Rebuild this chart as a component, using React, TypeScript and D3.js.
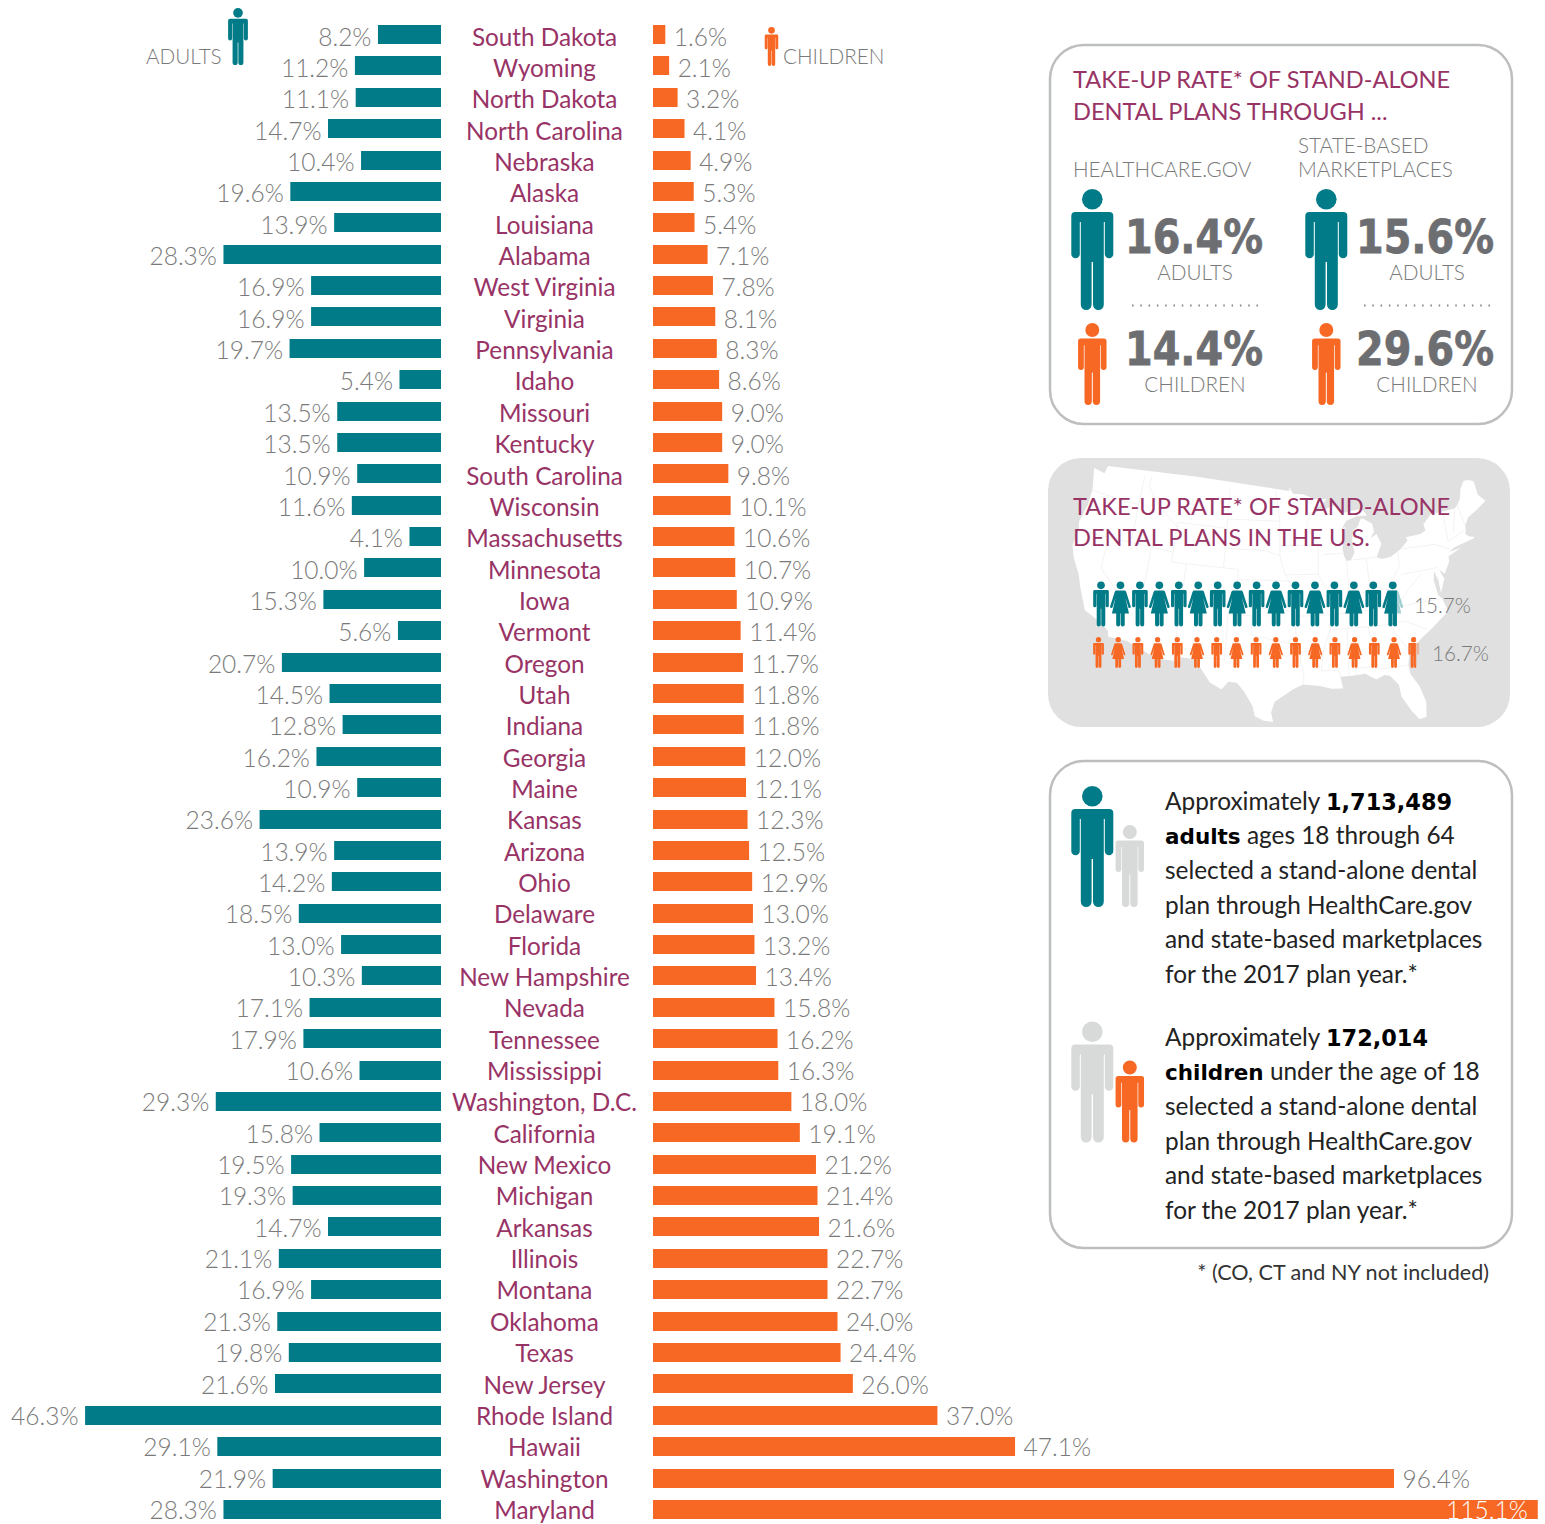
import React from 'react';
import * as d3 from 'd3';

// states run from lowest to highest child take-up rate
const states = ['South Dakota', 'Wyoming', 'North Dakota', 'North Carolina', 'Nebraska', 'Alaska', 'Louisiana', 'Alabama', 'West Virginia', 'Virginia', 'Pennsylvania', 'Idaho', 'Missouri', 'Kentucky', 'South Carolina', 'Wisconsin', 'Massachusetts', 'Minnesota', 'Iowa', 'Vermont', 'Oregon', 'Utah', 'Indiana', 'Georgia', 'Maine', 'Kansas', 'Arizona', 'Ohio', 'Delaware', 'Florida', 'New Hampshire', 'Nevada', 'Tennessee', 'Mississippi', 'Washington, D.C.', 'California', 'New Mexico', 'Michigan', 'Arkansas', 'Illinois', 'Montana', 'Oklahoma', 'Texas', 'New Jersey', 'Rhode Island', 'Hawaii', 'Washington', 'Maryland'];
const adultRates = [8.2, 11.2, 11.1, 14.7, 10.4, 19.6, 13.9, 28.3, 16.9, 16.9, 19.7, 5.4, 13.5, 13.5, 10.9, 11.6, 4.1, 10.0, 15.3, 5.6, 20.7, 14.5, 12.8, 16.2, 10.9, 23.6, 13.9, 14.2, 18.5, 13.0, 10.3, 17.1, 17.9, 10.6, 29.3, 15.8, 19.5, 19.3, 14.7, 21.1, 16.9, 21.3, 19.8, 21.6, 46.3, 29.1, 21.9, 28.3];
const childRates = [1.6, 2.1, 3.2, 4.1, 4.9, 5.3, 5.4, 7.1, 7.8, 8.1, 8.3, 8.6, 9.0, 9.0, 9.8, 10.1, 10.6, 10.7, 10.9, 11.4, 11.7, 11.8, 11.8, 12.0, 12.1, 12.3, 12.5, 12.9, 13.0, 13.2, 13.4, 15.8, 16.2, 16.3, 18.0, 19.1, 21.2, 21.4, 21.6, 22.7, 22.7, 24.0, 24.4, 26.0, 37.0, 47.1, 96.4, 115.1];

const usAdultRate = 15.7;
const usChildRate = 16.7;

const adultNote = [['Approximately ', '1,713,489'], ['adults', ' ages 18 through 64'], ['selected a stand-alone dental'], ['plan through HealthCare.gov'], ['and state-based marketplaces'], ['for the 2017 plan year.*']];
const childNote = [['Approximately ', '172,014'], ['children', ' under the age of 18'], ['selected a stand-alone dental'], ['plan through HealthCare.gov'], ['and state-based marketplaces'], ['for the 2017 plan year.*']];

// rough lower-48 outline, lon/lat, clockwise from the north-west corner
const usOutline = [[-124.7, 48.4], [-123, 48.2], [-122.8, 49], [-95.15, 49], [-95.15, 49.4], [-94.6, 48.7], [-93, 48.6], [-91.5, 48.1], [-89.6, 48], [-92, 46.7], [-90.5, 46.9], [-88.4, 47.4], [-87.5, 46.5], [-85, 46.7], [-84.4, 46.5], [-84, 46], [-85.5, 46.05], [-87, 45.7], [-87.6, 45.1], [-88, 44.55], [-87.3, 45.2], [-87.6, 44], [-87.9, 43], [-87.8, 42.3], [-87.5, 41.7], [-86.9, 41.75], [-86.3, 42.5], [-86.5, 43.6], [-86.2, 44.7], [-85.5, 45], [-85, 45.7], [-84.7, 45.78], [-83.4, 45.1], [-83.3, 44.3], [-83.9, 43.7], [-83, 44.05], [-82.5, 43], [-83.1, 42.2], [-83.4, 41.75], [-82.7, 41.5], [-81.5, 41.6], [-80, 42.2], [-78.9, 42.9], [-79.05, 43.27], [-77, 43.3], [-76.2, 43.55], [-76.3, 44.2], [-75, 45], [-71.5, 45], [-71, 45.3], [-70.4, 45.8], [-70, 46.7], [-69.2, 47.45], [-68.3, 47.35], [-67.8, 47.07], [-67.8, 45.7], [-67, 44.9], [-68.5, 44.3], [-70, 43.8], [-70.7, 43.1], [-70.8, 42.6], [-71, 42.3], [-70.6, 41.95], [-70, 41.8], [-70, 41.65], [-71.2, 41.5], [-72.9, 41.25], [-73.7, 40.95], [-72, 41.1], [-73.9, 40.55], [-74, 40], [-74.9, 38.95], [-75.5, 39.5], [-75.1, 38.5], [-75.9, 37.15], [-75.9, 38.5], [-76.2, 39.4], [-76.5, 38.5], [-76.3, 37], [-75.9, 36.6], [-75.5, 35.25], [-76.6, 34.65], [-77.9, 33.9], [-79.2, 33.2], [-81, 32], [-81.4, 30.7], [-81.3, 29.8], [-80.5, 28.4], [-80.05, 26.8], [-80.3, 25.3], [-81.1, 25.15], [-81.8, 26.1], [-82.7, 27.7], [-82.8, 28.9], [-83.7, 29.9], [-84.3, 30.05], [-85.3, 29.7], [-86.5, 30.4], [-88, 30.3], [-89.4, 30.3], [-89.2, 29.1], [-90.5, 29.15], [-91.8, 29.5], [-93.8, 29.7], [-95, 29.2], [-97, 28], [-97.4, 26.9], [-97.15, 25.95], [-98.2, 26.05], [-99.2, 26.5], [-99.5, 27.5], [-100.5, 28.9], [-101.4, 29.77], [-102.4, 29.8], [-103.1, 29], [-104.5, 29.6], [-106.5, 31.75], [-108.2, 31.78], [-108.2, 31.33], [-111.07, 31.33], [-114.8, 32.5], [-117.1, 32.53], [-117.3, 33.1], [-118.4, 33.75], [-120.6, 34.55], [-121.9, 36.6], [-122.5, 37.75], [-123.8, 39.3], [-124.4, 40.4], [-124.2, 42], [-124.5, 42.85], [-124, 44.7], [-124, 46.3], [-124.7, 48.4]];

// the faint state lines on the map
const stateLines = [
  [[-124, 46.25], [-123, 46.2], [-119, 46], [-117.03, 46]],
  [[-117.03, 49], [-117.03, 46], [-116.9, 44], [-117.03, 42]],
  [[-124.2, 42], [-111.05, 42]],
  [[-120, 42], [-120, 39], [-114.6, 35]],
  [[-114.04, 42], [-114.04, 36.2]],
  [[-114.04, 37], [-94.6, 37]],
  [[-109.05, 41], [-109.05, 31.33]],
  [[-116.05, 49], [-116.05, 48], [-114.5, 46.6], [-111.05, 44.5]],
  [[-111.05, 45], [-104.05, 45]],
  [[-111.05, 45], [-111.05, 41], [-102.05, 41], [-102.05, 37]],
  [[-104.05, 49], [-104.05, 41]],
  [[-103, 37], [-103, 32], [-106.6, 32]],
  [[-104.05, 45.94], [-96.56, 45.94]],
  [[-104.05, 43], [-98.5, 43], [-96.5, 42.5]],
  [[-102.05, 40], [-95.3, 40]],
  [[-103, 36.5], [-100, 36.5], [-100, 34.6], [-94.4, 33.6]],
  [[-97.2, 49], [-96.56, 45.94], [-96.5, 42.5], [-95.8, 40.6], [-94.6, 39.1], [-94.6, 36.5], [-94.4, 33.6], [-94, 33], [-94, 31.9], [-93.6, 31], [-93.8, 29.7]],
  [[-96.5, 43.5], [-91.2, 43.5]],
  [[-95.8, 40.6], [-91.4, 40.6]],
  [[-92, 46.7], [-92.8, 45.5], [-91.2, 43.5], [-91.4, 40.6], [-89.2, 37], [-90.3, 35], [-91.2, 33], [-91.6, 31], [-89.6, 31], [-89.4, 30.3]],
  [[-94.6, 36.5], [-90.3, 36.5], [-81.7, 36.6], [-75.9, 36.6]],
  [[-94, 33], [-91.2, 33]],
  [[-90.3, 35], [-84.3, 35], [-83, 35], [-81, 35.1], [-78.5, 33.9]],
  [[-88.2, 35], [-88.4, 30.3]],
  [[-85.6, 35], [-85, 32], [-85, 31], [-87.6, 31], [-87.5, 30.3]],
  [[-85, 31], [-84.9, 30.7], [-81.5, 30.7]],
  [[-83, 35], [-81, 32]],
  [[-90.6, 42.5], [-87.8, 42.5]],
  [[-87.5, 41.7], [-87.5, 39.3], [-88, 37.9]],
  [[-84.8, 41.7], [-84.8, 39.1]],
  [[-86.9, 41.75], [-83.4, 41.75]],
  [[-89.2, 37], [-85, 38.7], [-84.8, 39.1], [-82.6, 38.4], [-80.5, 40.6], [-80.5, 42]],
  [[-80.5, 39.7], [-75.7, 39.7]],
  [[-79.8, 42.2], [-75.3, 42], [-73.5, 41.2]],
  [[-73.3, 45], [-73.5, 42], [-70.8, 42.7]],
  [[-71.5, 45], [-72.5, 42.7]],
  [[-71, 45.3], [-70.7, 43.1]],
  [[-81.7, 36.6], [-80, 38], [-78, 39.4]],
];

const TEAL = '#007b87';
const ORANGE = '#f66824';
const GREY_ICON = '#d8d9d9';
const MAROON = '#983366';
const LABEL = '#7a7a7a';
const FONT = 'Lato, sans-serif';
const HEAVY = '"DejaVu Sans", sans-serif';

// icon shapes: 121 units tall, centred on x = 0
const MAN = 'M-17,23 H17 Q21,23 21,27 V65 A4.25,4.25 0 0 1 12.5,65 V33 H11.5 V115.6 A5.4,5.4 0 0 1 0.7,115.6 V73 H-0.7 V115.6 A5.4,5.4 0 0 1 -11.5,115.6 V33 H-12.5 V65 A4.25,4.25 0 0 1 -21,65 V27 Q-21,23 -17,23 Z';
const WOMAN = 'M-11,24 H11 Q14,24 15.5,28 L28,68 A3.6,3.6 0 0 1 21.5,70 L13,44 L23,86 H11.5 V115.6 A5.4,5.4 0 0 1 0.7,115.6 V86 H-0.7 V115.6 A5.4,5.4 0 0 1 -11.5,115.6 V86 H-23 L-13,44 L-21.5,70 A3.6,3.6 0 0 1 -28,68 L-15.5,28 Q-14,24 -11,24 Z';

function Person({ x, y, h, fill, woman = false, opacity = 1 }: { x: number; y: number; h: number; fill: string; woman?: boolean; opacity?: number }) {
  const k = h / 121;
  return (
    <g transform={`translate(${x},${y}) scale(${k})`} fill={fill} opacity={opacity}>
      <circle cx={0} cy={10.3} r={10.3} />
      <path d={woman ? WOMAN : MAN} />
    </g>
  );
}

// one row of alternating people, the last one only partly filled
function PeopleRow({ id, rate, x, step, y, h, fill }: { id: string; rate: number; x: number; step: number; y: number; h: number; fill: string }) {
  const count = Math.ceil(rate);
  const frac = rate - Math.floor(rate);
  const pos = d3.scaleLinear().domain([0, 1]).range([x, x + step]);
  const lastX = pos(count - 1);
  const lastWoman = (count - 1) % 2 === 1;
  const w = ((lastWoman ? 28 : 21) * h) / 121;
  return (
    <g>
      <clipPath id={id}>
        <rect x={lastX - w} y={y} width={2 * w * frac} height={h} />
      </clipPath>
      {d3.range(count - 1).map((i) => (
        <Person key={i} x={pos(i)} y={y} h={h} fill={fill} woman={i % 2 === 1} />
      ))}
      <Person x={lastX} y={y} h={h} fill={fill} woman={lastWoman} opacity={0.35} />
      <g clipPath={`url(#${id})`}>
        <Person x={lastX} y={y} h={h} fill={fill} woman={lastWoman} />
      </g>
    </g>
  );
}

function Note({ lines, y }: { lines: string[][]; y: number }) {
  return (
    <text fontFamily={FONT} fontSize={24.4} fill="#222">
      {lines.map((parts, i) => (
        <tspan key={i} x={1165} y={y + i * 34.7}>
          {parts.map((p, j) => {
            if (/^[\d,]+$/.test(p)) return <tspan key={j} fontFamily={HEAVY} fontWeight={700} fontSize={22.4} fill="#000">{p}</tspan>;
            if (p === 'adults' || p === 'children') return <tspan key={j} fontFamily={HEAVY} fontWeight={700} fontSize={21.5} fill="#000">{p}</tspan>;
            return <tspan key={j}>{p}</tspan>;
          })}
        </tspan>
      ))}
    </text>
  );
}

function App() {
  const len = d3.scaleLinear().domain([0, 100]).range([0, 768.7]);
  const rowY = d3.scaleBand().domain(states).range([18.72, 1525.3]).paddingInner(0.39).paddingOuter(0.2);
  const baseline = d3.scaleLinear().domain([0, states.length - 1]).range([45.7, 1518.9]);
  const barH = 19;

  const projection = d3.geoAlbers().fitExtent([[1072, 466], [1486, 722]], { type: 'Polygon', coordinates: [usOutline] } as any);
  const geoPath = d3.geoPath(projection);
  const mapShape = geoPath({ type: 'Polygon', coordinates: [usOutline] } as any) || '';
  const borders = geoPath({ type: 'MultiLineString', coordinates: stateLines } as any) || '';

  const label = { fontFamily: FONT, fontWeight: 300, fontSize: 24.5, fill: LABEL };
  const small = { fontFamily: FONT, fontWeight: 300, fontSize: 20.7, fill: LABEL };
  const title = { fontFamily: FONT, fontSize: 23.6, fill: MAROON };
  const stat = { fontFamily: HEAVY, fontWeight: 700, fontSize: 46, fill: '#6d6e71', stroke: '#6d6e71', strokeWidth: 0.8, textAnchor: 'middle' as const, textLength: 138, lengthAdjust: 'spacingAndGlyphs' as const };

  return (
    <svg width={1545} height={1524} style={{ position: 'absolute', left: 0, top: 0 }}>
      <rect width={1545} height={1524} fill="#fff" />

      {/* butterfly bars */}
      {states.map((s, i) => {
        const y = Math.round(rowY(s) as number);
        const base = baseline(i);
        const adult = adultRates[i];
        const child = childRates[i];
        const inside = child > 100;
        return (
          <g key={s}>
            <rect x={441 - len(adult)} y={y} width={len(adult)} height={barH} fill={TEAL} />
            <rect x={653} y={y} width={len(child)} height={barH} fill={ORANGE} />
            <text {...label} x={441 - len(adult) - 6.5} y={base} textAnchor="end">{adult.toFixed(1)}%</text>
            <text fontFamily={FONT} fontSize={24.3} fill={MAROON} x={544.5} y={base} textAnchor="middle">{s}</text>
            {inside ? (
              <text {...label} fill="#fff" x={653 + len(child) - 10} y={base} textAnchor="end">{child.toFixed(1)}%</text>
            ) : (
              <text {...label} x={653 + len(child) + 8.5} y={base}>{child.toFixed(1)}%</text>
            )}
          </g>
        );
      })}

      {/* column headers */}
      <text {...small} x={146} y={64}>ADULTS</text>
      <Person x={238} y={8} h={57} fill={TEAL} />
      <Person x={771.5} y={27} h={39} fill={ORANGE} />
      <text {...small} x={783} y={64}>CHILDREN</text>

      {/* take-up by channel */}
      <rect x={1050} y={45} width={462} height={379} rx={34} fill="#fff" stroke="#bcbec0" strokeWidth={2.5} />
      <text {...title} x={1073} y={88.3}>TAKE-UP RATE* OF STAND-ALONE</text>
      <text {...title} x={1073} y={120}>DENTAL PLANS THROUGH ...</text>
      <text {...small} x={1073} y={177}>HEALTHCARE.GOV</text>
      <text {...small} x={1298} y={153}>STATE-BASED</text>
      <text {...small} x={1298} y={177}>MARKETPLACES</text>
      <Person x={1092.3} y={189} h={121} fill={TEAL} />
      <Person x={1326.3} y={189} h={121} fill={TEAL} />
      <Person x={1092.3} y={323} h={82} fill={ORANGE} />
      <Person x={1326.3} y={323} h={82} fill={ORANGE} />
      <text {...stat} x={1194} y={253}>16.4%</text>
      <text {...stat} x={1425} y={253}>15.6%</text>
      <text {...stat} x={1194} y={365}>14.4%</text>
      <text {...stat} x={1425} y={365}>29.6%</text>
      <text {...small} x={1195} y={280} textAnchor="middle">ADULTS</text>
      <text {...small} x={1427} y={280} textAnchor="middle">ADULTS</text>
      <text {...small} x={1195} y={392} textAnchor="middle">CHILDREN</text>
      <text {...small} x={1427} y={392} textAnchor="middle">CHILDREN</text>
      <line x1={1132} x2={1258} y1={305.5} y2={305.5} stroke="#858585" strokeWidth={2} strokeDasharray="1.5 6.8" />
      <line x1={1364} x2={1490} y1={305.5} y2={305.5} stroke="#858585" strokeWidth={2} strokeDasharray="1.5 6.8" />

      {/* national rate over the map */}
      <clipPath id="mapPanel"><rect x={1048} y={458} width={462} height={269} rx={33} /></clipPath>
      <rect x={1048} y={458} width={462} height={269} rx={33} fill="#e0e0e0" />
      <g clipPath="url(#mapPanel)">
        <path d={mapShape} fill="#fff" />
        <path d={borders} fill="none" stroke="#f3f3f3" strokeWidth={1} />
      </g>
      <text {...title} x={1073} y={514.5}>TAKE-UP RATE* OF STAND-ALONE</text>
      <text {...title} x={1073} y={545.7}>DENTAL PLANS IN THE U.S.</text>
      <PeopleRow id="adultPartial" rate={usAdultRate} x={1101} step={19.45} y={581.5} h={45} fill={TEAL} />
      <PeopleRow id="childPartial" rate={usChildRate} x={1098.5} step={19.7} y={637} h={31} fill={ORANGE} />
      <text {...small} x={1414} y={613}>{usAdultRate.toFixed(1)}%</text>
      <text {...small} x={1432} y={661}>{usChildRate.toFixed(1)}%</text>

      {/* enrolment notes */}
      <rect x={1050} y={761} width={462} height={487} rx={34} fill="#fff" stroke="#bcbec0" strokeWidth={2.5} />
      <Person x={1092.3} y={786} h={121} fill={TEAL} />
      <Person x={1129.8} y={825} h={82} fill={GREY_ICON} />
      <Person x={1092.3} y={1021.5} h={121} fill={GREY_ICON} />
      <Person x={1129.8} y={1060.5} h={82} fill={ORANGE} />
      <Note lines={adultNote} y={809.5} />
      <Note lines={childNote} y={1045.5} />
      <text fontFamily={FONT} fontSize={21.6} fill="#333" x={1489} y={1280} textAnchor="end">* (CO, CT and NY not included)</text>
    </svg>
  );
}

export default App;
